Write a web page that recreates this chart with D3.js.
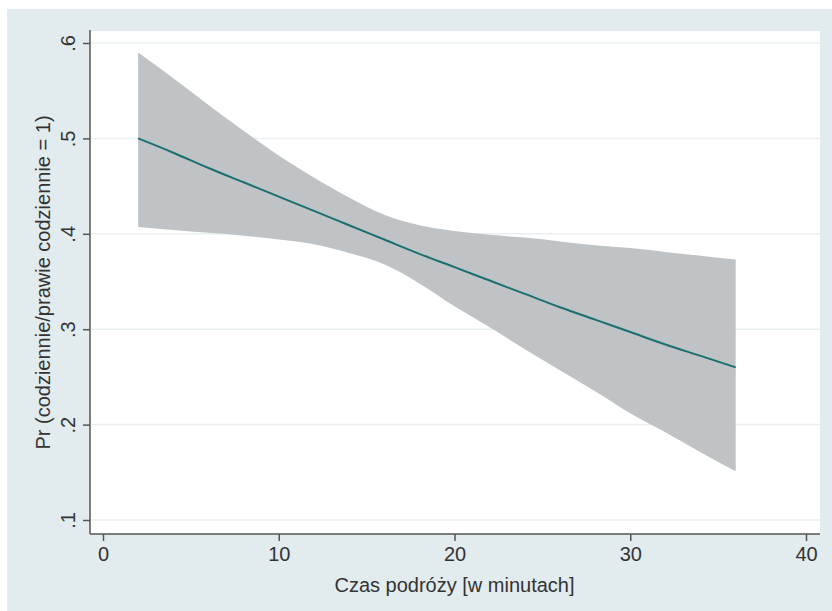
<!DOCTYPE html>
<html>
<head>
<meta charset="utf-8">
<script src="https://cdn.jsdelivr.net/npm/d3@7"></script>
<style>
  body { margin: 0; background: #fff; }
  text { font-family: "Liberation Sans", Arial, sans-serif; fill: #333; }
</style>
</head>
<body>
<div class="chart"></div>
<script>
// minutes of travel, predicted probability, 95% CI bounds
const minutes = [2, 4, 6, 8, 10, 12, 14, 16, 18, 20, 22, 24, 26, 28, 30, 32, 34, 36];
const prob    = [0.500, 0.485, 0.469, 0.454, 0.439, 0.424, 0.409, 0.394, 0.379, 0.365, 0.351, 0.337, 0.323, 0.310, 0.297, 0.284, 0.272, 0.260];
const upper   = [0.590, 0.563, 0.535, 0.508, 0.482, 0.459, 0.438, 0.420, 0.409, 0.403, 0.399, 0.396, 0.392, 0.388, 0.385, 0.381, 0.377, 0.373];
const lower   = [0.407, 0.404, 0.401, 0.398, 0.394, 0.389, 0.380, 0.368, 0.348, 0.324, 0.302, 0.279, 0.257, 0.235, 0.212, 0.192, 0.171, 0.151];
const xTicks = [0, 10, 20, 30, 40];
const yTicks = [0.1, 0.2, 0.3, 0.4, 0.5, 0.6];
const xTitle = "Czas podróży [w minutach]";
const yTitle = "Pr (codziennie/prawie codziennie = 1)";

let outWidth = 832, outHeight = 611;
let plot = {left: 90, right: 820, top: 31, bottom: 534};

const data = minutes.map((m, i) => ({x: m, p: prob[i], lo: lower[i], hi: upper[i]}));

const svg = d3.select('.chart').append('svg')
  .attr("width", outWidth)
  .attr("height", outHeight);

// outer background
svg.append("rect")
  .attr("x", 7).attr("y", 9)
  .attr("width", outWidth - 7).attr("height", outHeight - 9)
  .attr("fill", "#e2ebee");

svg.append("rect")
  .attr("x", plot.left).attr("y", plot.top)
  .attr("width", plot.right - plot.left).attr("height", plot.bottom - plot.top)
  .attr("fill", "#ffffff");

const xScale = d3.scaleLinear().domain([0, 40]).range([103, 806]);
const yScale = d3.scaleLinear().domain([0.1, 0.6]).range([520, 43]);

// grid
svg.append("g").selectAll("line")
  .data(yTicks)
  .enter().append("line")
  .attr("x1", plot.left + 1).attr("x2", plot.right)
  .attr("y1", d => yScale(d)).attr("y2", d => yScale(d))
  .attr("stroke", "#eaf0f2")
  .attr("stroke-width", 1.5);

// CI band
const area = d3.area()
  .x(d => xScale(d.x))
  .y0(d => yScale(d.lo))
  .y1(d => yScale(d.hi))
  .curve(d3.curveMonotoneX);

svg.append("path")
  .datum(data)
  .attr("d", area)
  .attr("fill", "#bfc3c5");

const line = d3.line()
  .x(d => xScale(d.x))
  .y(d => yScale(d.p))
  .curve(d3.curveMonotoneX);

svg.append("path")
  .datum(data)
  .attr("d", line)
  .attr("fill", "none")
  .attr("stroke", "#1b6f70")
  .attr("stroke-width", 2);

// axes
const xAxis = d3.axisBottom(xScale).tickValues(xTicks).tickSize(7).tickPadding(6);
const yAxis = d3.axisLeft(yScale).tickValues(yTicks).tickSize(7)
  .tickFormat(d => d3.format(".1f")(d).replace(/^0/, ""));

const gx = svg.append("g")
  .attr("transform", `translate(0, ${plot.bottom})`)
  .call(xAxis);
gx.select(".domain").attr("d", `M${plot.left},0H${plot.right}`);

const gy = svg.append("g")
  .attr("transform", `translate(${plot.left}, 0)`)
  .call(yAxis);
gy.select(".domain").attr("d", `M0,${plot.top - 1}V${plot.bottom}`);

svg.selectAll(".domain, .tick line").attr("stroke", "#555").attr("stroke-width", 1.5);
svg.selectAll(".tick text").attr("font-size", 20).attr("fill", "#333")
  .style("font-family", "'Liberation Sans', Arial, sans-serif");

gy.selectAll(".tick text")
  .attr("x", null).attr("dy", null)
  .attr("text-anchor", "middle")
  .attr("dominant-baseline", "central")
  .attr("transform", "translate(-22,0) rotate(-90)");

svg.append("text")
  .attr("x", xScale(20)).attr("y", 585)
  .attr("text-anchor", "middle")
  .attr("dominant-baseline", "central")
  .attr("font-size", 20)
  .text(xTitle);

svg.append("text")
  .attr("transform", `translate(43, ${(plot.top + plot.bottom) / 2}) rotate(-90)`)
  .attr("text-anchor", "middle")
  .attr("dominant-baseline", "central")
  .attr("font-size", 20)
  .text(yTitle);
</script>
</body>
</html>
